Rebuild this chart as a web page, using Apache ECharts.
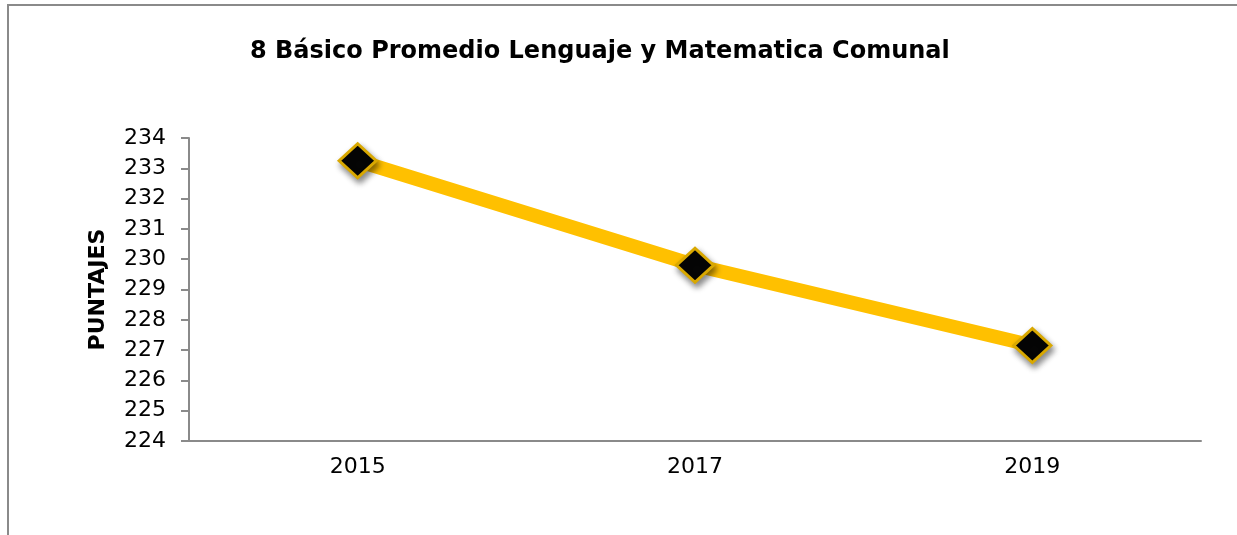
<!DOCTYPE html>
<html>
<head>
<meta charset="utf-8">
<script src="https://cdn.jsdelivr.net/npm/echarts@6/dist/echarts.min.js"></script>
<style>
  html, body { margin: 0; padding: 0; background: #fff; }
  #chart { width: 1237px; height: 535px; }
</style>
</head>
<body>
<div id="chart"></div>
<script>
// datos del gráfico
const years = ['2015', '2017', '2019']
const puntajes = [233.25, 229.8, 227.15]
const yMin = 224
const yMax = 234

const chart = echarts.init(document.getElementById('chart'))
const option = {
  backgroundColor: '#fff',
  animation: false,
  title: {
    text: '8 Básico Promedio Lenguaje y Matematica Comunal',
    left: 245,
    top: 35,
    textStyle: { fontFamily: 'DejaVu Sans', fontWeight: 'bold', fontSize: 24, color: '#000' }
  },
  graphic: [{ // marco del gráfico
    type: 'rect',
    shape: { x: 8, y: 5, width: 1400, height: 700 },
    style: { fill: 'none', stroke: '#8a8a8a', lineWidth: 2 },
    silent: true
  }],
  grid: { left: 189, right: 36, top: 138, bottom: 94 },
  xAxis: {
    type: 'category',
    data: years,
    boundaryGap: true,
    axisLine: { lineStyle: { color: '#8a8a8a', width: 2 } },
    axisTick: { show: false },
    axisLabel: { color: '#000', fontFamily: 'DejaVu Sans', fontSize: 22, margin: 15 }
  },
  yAxis: {
    type: 'value',
    min: yMin,
    max: yMax,
    interval: 1,
    name: 'PUNTAJES',
    nameLocation: 'middle',
    nameGap: 80,
    nameRotate: 90,
    nameTextStyle: { color: '#000', fontFamily: 'DejaVu Sans', fontWeight: 'bold', fontSize: 22 },
    axisLine: { show: true, lineStyle: { color: '#8a8a8a', width: 2 } },
    axisTick: { show: true, inside: false, length: 8, lineStyle: { color: '#8a8a8a', width: 2 } },
    splitLine: { show: false },
    axisLabel: { color: '#000', fontFamily: 'DejaVu Sans', fontSize: 22, margin: 23 }
  },
  series: [{
    type: 'line',
    data: puntajes,
    lineStyle: { color: '#FFC000', width: 14 },
    symbol: 'diamond',
    symbolSize: [37, 34],
    itemStyle: {
      color: '#050505',
      borderColor: '#D9A800',
      borderWidth: 3,
      shadowBlur: 6,
      shadowColor: 'rgba(0,0,0,0.45)',
      shadowOffsetX: 2,
      shadowOffsetY: 4
    },
    z: 3
  }]
}
chart.setOption(option)
</script>
</body>
</html>
